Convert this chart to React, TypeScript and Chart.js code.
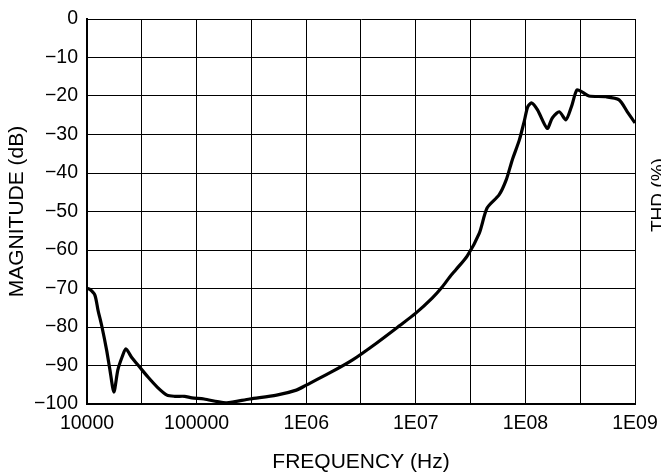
import React, { useEffect, useRef } from "react";
import { Chart, registerables } from "chart.js";

Chart.register(...registerables);

// Frequency (Hz) and magnitude (dB)
const freqHz = [
  1.0e4, 1.06e4, 1.18e4, 1.26e4, 1.37e4, 1.51e4, 1.62e4, 1.76e4, 1.91e4, 2.09e4,
  2.26e4, 2.57e4, 3.02e4, 3.6e4, 4.37e4, 5.37e4, 6.31e4, 7.76e4, 9.04e4, 1.17e5,
  1.55e5, 1.88e5, 3.05e5, 5.37e5, 8.13e5, 1.0e6, 1.62e6, 2.63e6, 4.37e6, 7.08e6,
  1.0e7, 1.41e7, 1.74e7, 2.04e7, 2.34e7, 2.95e7, 3.8e7, 4.47e7, 5.75e7, 6.68e7,
  7.59e7, 8.81e7, 9.77e7, 1.05e8, 1.14e8, 1.29e8, 1.58e8, 1.76e8, 2.04e8, 2.34e8,
  2.63e8, 2.95e8, 3.31e8, 3.8e8, 5.43e8, 7.16e8, 8.51e8, 1.0e9,
];
const magnitudeDb = [
  -70, -70.2, -71.7, -75.6, -80, -86, -91.2, -96.9, -91.2, -87.8,
  -85.7, -88, -90.4, -93, -95.6, -97.7, -98.0, -98.0, -98.4, -98.7,
  -99.4, -99.7, -98.7, -97.7, -96.4, -95.1, -92, -88.6, -84.2, -79.7,
  -76.4, -72.5, -69.6, -67, -65, -61.5, -55.6, -49.1, -45.7, -41.8,
  -36.6, -31.4, -26.5, -22.8, -21.8, -23.6, -28.4, -25.7, -24.1, -26.2,
  -22.8, -18.4, -19, -20, -20.2, -21, -24.1, -27,
];

// Vertical grid lines (decades and half decades) and their labels
const xGridFreqs = [1e4, 3.16e4, 1e5, 3.16e5, 1e6, 3.16e6, 1e7, 3.16e7, 1e8, 3.16e8, 1e9];
const xTickLabels = ["10000", "", "100000", "", "1E06", "", "1E07", "", "1E08", "", "1E09"];
const yTicks = [0, -10, -20, -30, -40, -50, -60, -70, -80, -90, -100];
const yTickLabels = ["0", "\u221210", "\u221220", "\u221230", "\u221240", "\u221250", "\u221260", "\u221270", "\u221280", "\u221290", "\u2212100"];

const FONT = "'Liberation Sans', Arial, Helvetica, sans-serif";

const rightTitlePlugin = {
  id: "rightTitle",
  afterDraw(chart: any) {
    const ctx = chart.ctx;
    const size = 19;
    ctx.save();
    ctx.font = `${size}px ${FONT}`;
    ctx.fillStyle = "#000";
    ctx.translate(650, 232);
    ctx.rotate(-Math.PI / 2);
    ctx.textAlign = "left";
    ctx.textBaseline = "alphabetic";
    ctx.fillText("THD (%)", 0, size * 0.716);
    ctx.restore();
  },
};

export default function App() {
  const ref = useRef<HTMLCanvasElement | null>(null);

  useEffect(() => {
    if (!ref.current) return;
    const chart = new Chart(ref.current, {
      type: "line",
      data: {
        datasets: [
          {
            data: freqHz.map((f, i) => ({ x: f, y: magnitudeDb[i] })),
            borderColor: "#000",
            borderWidth: 3.2,
            pointRadius: 0,
            tension: 0.25,
            fill: false,
          },
        ],
      },
      options: {
        animation: false,
        responsive: true,
        maintainAspectRatio: false,
        layout: { padding: { top: 19, right: 26, left: 0, bottom: 0 } },
        plugins: { legend: { display: false }, tooltip: { enabled: false } },
        scales: {
          x: {
            type: "logarithmic",
            min: 1e4,
            max: 1e9,
            afterBuildTicks: (scale: any) => {
              scale.ticks = xGridFreqs.map((v) => ({ value: v }));
            },
            afterFit: (scale: any) => {
              scale.height = 71;
              scale.paddingLeft = 0;
              scale.paddingRight = 0;
            },
            grid: { color: "#000", lineWidth: 1, drawTicks: false },
            border: { color: "#000", width: 2 },
            ticks: {
              autoSkip: false,
              maxRotation: 0,
              padding: 8,
              color: "#000",
              font: { family: FONT, size: 19.5 },
              callback: (_v: any, i: number) => xTickLabels[i],
            },
            title: {
              display: true,
              text: "FREQUENCY (Hz)",
              color: "#000",
              font: { family: FONT, size: 21 },
              padding: { top: 0, bottom: 0 },
            },
          },
          y: {
            type: "linear",
            min: -100,
            max: 0,
            afterBuildTicks: (scale: any) => {
              scale.ticks = yTicks.map((v) => ({ value: v }));
            },
            afterFit: (scale: any) => {
              scale.width = 87;
              scale.paddingTop = 0;
              scale.paddingBottom = 0;
            },
            grid: { color: "#000", lineWidth: 1, drawTicks: false },
            border: { color: "#000", width: 2 },
            ticks: {
              padding: 9,
              color: "#000",
              font: { family: FONT, size: 19.5 },
              callback: (_v: any, i: number) => yTickLabels[i],
            },
            title: {
              display: true,
              text: "MAGNITUDE (dB)",
              color: "#000",
              font: { family: FONT, size: 21 },
              padding: { top: 5, bottom: 0 },
            },
          },
        },
      },
      plugins: [rightTitlePlugin],
    });
    return () => chart.destroy();
  }, []);

  return (
    <div style={{ position: "absolute", left: 0, top: 0, width: 661, height: 475, background: "#fff" }}>
      <canvas ref={ref} style={{ width: "100%", height: "100%" }} />
    </div>
  );
}
